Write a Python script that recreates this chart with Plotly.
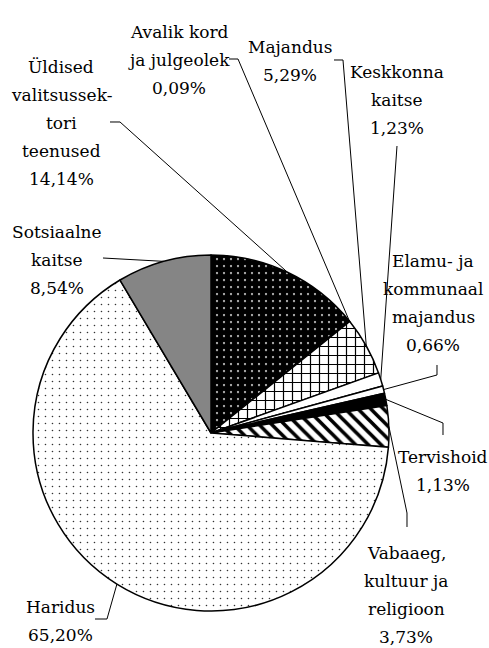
import math
import plotly.graph_objects as go

# ---------------- data ----------------
categories = [
    "Üldised valitsussektori teenused",
    "Avalik kord ja julgeolek",
    "Majandus",
    "Keskkonna kaitse",
    "Elamu- ja kommunaalmajandus",
    "Tervishoid",
    "Vabaaeg, kultuur ja religioon",
    "Haridus",
    "Sotsiaalne kaitse",
]
shares = [14.14, 0.09, 5.29, 1.23, 0.66, 1.13, 3.73, 65.20, 8.54]
label_lines = [
    ["Üldised", "valitsussek-", "tori", "teenused", "14,14%"],
    ["Avalik kord", "ja julgeolek", "0,09%"],
    ["Majandus", "5,29%"],
    ["Keskkonna", "kaitse", "1,23%"],
    ["Elamu- ja", "kommunaal", "majandus", "0,66%"],
    ["Tervishoid", "1,13%"],
    ["Vabaaeg,", "kultuur ja", "religioon", "3,73%"],
    ["Haridus", "65,20%"],
    ["Sotsiaalne", "kaitse", "8,54%"],
]

# ---------------- styles ----------------
W, H = 489, 648
CX, CY, R = 211, 433, 178
FONT = "DejaVu Serif"
FS = 17
LINE = 28

fill_colors = ["white", "white", "white", "white", "white", "black", "white", "white", "#858585"]
pat_shapes = [".", "", "+", "", "", "", "\\", ".", ""]
pat_fg = ["black", "black", "black", "black", "black", "black", "black", "#333333", "black"]
pat_bg = ["white", "white", "white", "white", "white", "black", "white", "white", "#858585"]
pat_size = [7, 8, 9, 8, 8, 8, 9, 7, 8]
pat_solid = [0.85, 0.3, 0.25, 0.3, 0.3, 0.3, 0.4, 0.04, 0.3]

# label block centers (x, y of first line) in pixels
label_pos = [
    (61, 67), (179, 32), (290, 47), (397, 72), (433, 261),
    (443, 457), (406, 553), (60, 607), (57, 232),
]
# leader polyline starting points (pixels) before the edge point
leader_pts = [
    [(110, 122), (120, 122)],
    [(229, 59), (238, 59)],
    [(334, 60), (343, 60)],
    [(397, 146)],
    [(437, 365), (437, 375)],
    [(443, 435), (443, 423)],
    [(407, 527), (407, 513)],
    [(95, 619), (107, 619)],
    [(103, 258)],
]

fig = go.Figure(go.Pie(
    labels=categories,
    values=shares,
    sort=False,
    direction="clockwise",
    rotation=0,
    textinfo="none",
    hoverinfo="label+percent",
    showlegend=False,
    domain=dict(x=[(CX - R) / W, (CX + R) / W],
                y=[(H - CY - R) / H, (H - CY + R) / H]),
    marker=dict(
        colors=fill_colors,
        line=dict(color="black", width=1.5),
        pattern=dict(shape=pat_shapes, fgcolor=pat_fg, bgcolor=pat_bg,
                     size=pat_size, solidity=pat_solid, fillmode="replace"),
    ),
))

def px(x, y):
    return x / W, 1 - y / H

annotations = []
shapes = []
total = sum(shares)
cum = 0.0
for i, v in enumerate(shares):
    theta = 2 * math.pi * (cum + v / 2) / total
    cum += v
    ex = CX + R * math.sin(theta)
    ey = CY - R * math.cos(theta)
    pts = leader_pts[i] + [(ex, ey)]
    path = ""
    for j, (x, y) in enumerate(pts):
        X, Y = px(x, y)
        path += ("M " if j == 0 else " L ") + f"{X:.5f},{Y:.5f}"
    shapes.append(dict(type="path", xref="paper", yref="paper", path=path,
                       line=dict(color="black", width=1)))
    lx, ly = label_pos[i]
    for k, t in enumerate(label_lines[i]):
        X, Y = px(lx, ly + k * LINE)
        annotations.append(dict(x=X, y=Y, xref="paper", yref="paper", text=t,
                                showarrow=False, xanchor="center", yanchor="middle",
                                font=dict(family=FONT, size=FS, color="black")))

fig.update_layout(
    width=W, height=H,
    margin=dict(l=0, r=0, t=0, b=0),
    paper_bgcolor="white",
    plot_bgcolor="white",
    font=dict(family=FONT),
    annotations=annotations,
    shapes=shapes,
)

fig.write_html("out.html", config={"displayModeBar": False},
               post_script="document.body.style.margin='0';document.body.style.overflow='hidden';")
